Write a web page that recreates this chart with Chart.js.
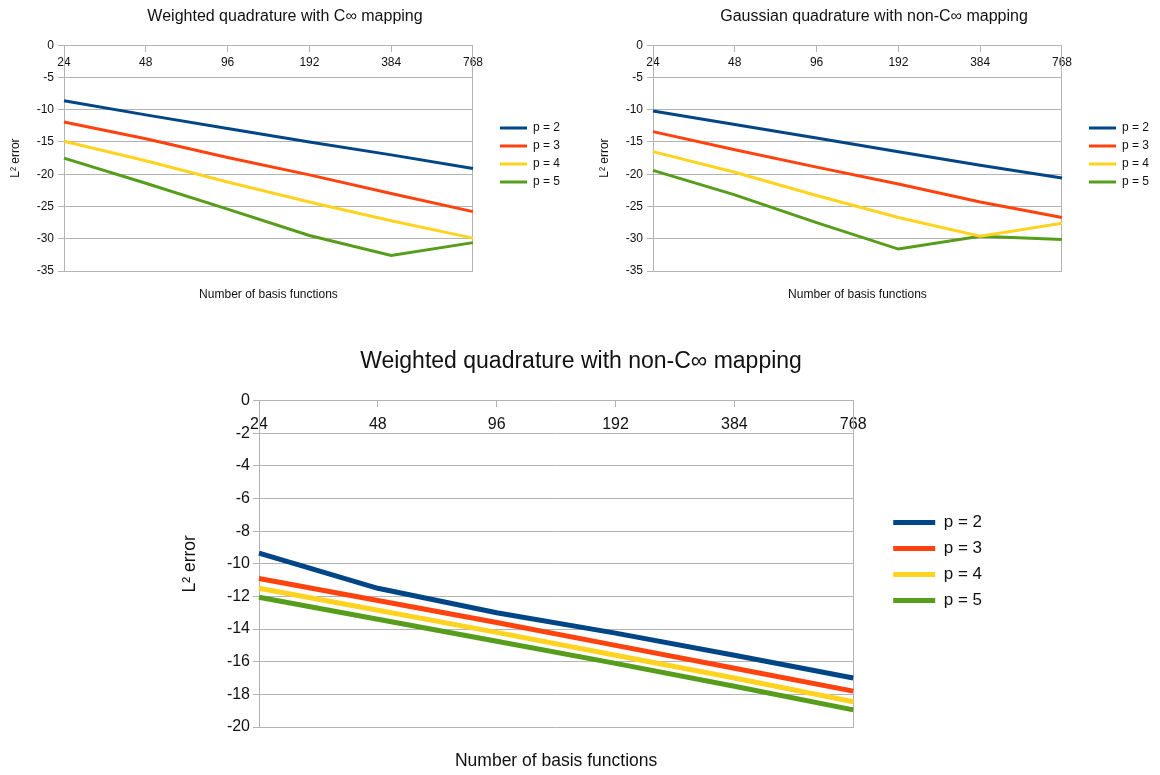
<!DOCTYPE html>
<html>
<head>
<meta charset="utf-8">
<script src="https://cdn.jsdelivr.net/npm/chart.js@4"></script>
<style>
  html, body { margin: 0; padding: 0; background: #fff; }
  body { width: 1160px; height: 775px; position: relative; overflow: hidden; }
  canvas { position: absolute; }
  #chartA { left: 0; top: 0; }
  #chartB { left: 589px; top: 0; }
  #chartC { left: 170px; top: 330px; }
</style>
</head>
<body>
<canvas id="chartA" width="571" height="310"></canvas>
<canvas id="chartB" width="571" height="310"></canvas>
<canvas id="chartC" width="840" height="445"></canvas>
<script>
const basisLabels = ['24', '48', '96', '192', '384', '768'];
const seriesNames = ['p = 2', 'p = 3', 'p = 4', 'p = 5'];

const yTicksSmall = [0, -5, -10, -15, -20, -25, -30, -35];
const yTicksLarge = [0, -2, -4, -6, -8, -10, -12, -14, -16, -18, -20];

// Weighted quadrature with C∞ mapping
const wcP2 = [-8.6, -10.8, -12.9, -15.0, -17.0, -19.1];
const wcP3 = [-11.9, -14.5, -17.4, -20.1, -23.0, -25.8];
const wcP4 = [-14.9, -17.9, -21.2, -24.3, -27.2, -29.9];
const wcP5 = [-17.5, -21.4, -25.4, -29.5, -32.6, -30.6];

// Gaussian quadrature with non-C∞ mapping
const gnP2 = [-10.2, -12.3, -14.4, -16.5, -18.6, -20.6];
const gnP3 = [-13.4, -16.2, -18.9, -21.5, -24.3, -26.7];
const gnP4 = [-16.5, -19.7, -23.3, -26.7, -29.6, -27.6];
const gnP5 = [-19.4, -23.2, -27.5, -31.6, -29.6, -30.1];

// Weighted quadrature with non-C∞ mapping
const wnP2 = [-9.35, -11.5, -13.0, -14.25, -15.6, -17.0];
const wnP3 = [-10.9, -12.25, -13.6, -15.0, -16.4, -17.8];
const wnP4 = [-11.5, -12.85, -14.2, -15.6, -17.0, -18.45];
const wnP5 = [-12.05, -13.4, -14.75, -16.1, -17.5, -18.95];

const palette = ['#004586', '#ff420e', '#ffd320', '#579d1c'];
const GRID = '#b3b3b3';
const TEXT = '#111';
const FONT = "'Liberation Sans', Arial, sans-serif";

function makeChart(canvasId, title, series, yTicks, s) {
  const datasets = series.map((values, i) => ({
    label: seriesNames[i],
    data: values,
    borderColor: palette[i],
    backgroundColor: palette[i],
    borderWidth: s.lineWidth,
    pointRadius: 0,
    tension: 0,
    xAxisID: 'x',
    yAxisID: 'y'
  }));

  return new Chart(document.getElementById(canvasId), {
    type: 'line',
    data: { labels: basisLabels, datasets },
    options: {
      responsive: false,
      animation: false,
      layout: { padding: { top: s.padTop, right: s.padRight, bottom: 0, left: 0 } },
      plugins: {
        title: {
          display: true,
          text: title,
          color: TEXT,
          font: { family: FONT, size: s.titleSize, weight: 'normal' },
          padding: { top: s.titleTop, bottom: s.titleBottom }
        },
        legend: {
          position: 'right',
          align: 'center',
          labels: {
            usePointStyle: true,
            pointStyle: 'line',
            pointStyleWidth: s.legendLine,
            color: TEXT,
            font: { family: FONT, size: s.legendSize },
            padding: s.legendPad
          }
        },
        tooltip: { enabled: false }
      },
      scales: {
        x: {
          type: 'category',
          position: { y: 0 },
          offset: false,
          grid: { display: true, drawOnChartArea: false, drawTicks: true, tickLength: s.tick, tickColor: GRID },
          border: { display: true, color: GRID },
          ticks: { color: TEXT, font: { family: FONT, size: s.tickSize }, padding: s.xTickPad, maxRotation: 0, autoSkip: false }
        },
        xb: {
          type: 'category',
          position: 'bottom',
          grid: { display: false, drawTicks: false },
          border: { display: false },
          ticks: { display: false },
          title: {
            display: true,
            text: 'Number of basis functions',
            color: TEXT,
            font: { family: FONT, size: s.axisTitleSize },
            padding: { top: 0, bottom: s.xTitleBottom }
          },
          afterFit: (scale) => { scale.height = s.bottomH; }
        },
        y: {
          type: 'linear',
          position: 'left',
          min: yTicks[yTicks.length - 1],
          max: yTicks[0],
          afterBuildTicks: (scale) => { scale.ticks = yTicks.map((v) => ({ value: v })); },
          grid: { color: GRID, tickLength: s.tick, tickColor: GRID },
          border: { display: true, color: GRID },
          ticks: { color: TEXT, font: { family: FONT, size: s.tickSize }, padding: s.yTickPad },
          title: {
            display: true,
            text: 'L² error',
            color: TEXT,
            font: { family: FONT, size: s.axisTitleSize },
            padding: { top: s.yTitleTop, bottom: 0 }
          },
          afterFit: (scale) => { scale.width = s.leftW; }
        },
        yr: {
          type: 'linear',
          position: 'right',
          min: yTicks[yTicks.length - 1],
          max: yTicks[0],
          grid: { display: false, drawTicks: false },
          border: { display: true, color: GRID },
          ticks: { display: false },
          afterFit: (scale) => { scale.width = s.gap; }
        }
      }
    }
  });
}

const smallStyle = {
  lineWidth: 3, padTop: 0, padRight: 1,
  titleSize: 16, titleTop: 7, titleBottom: 19,
  legendLine: 27, legendSize: 12, legendPad: 6,
  tick: 6, tickSize: 12, yTickPad: 4, xTickPad: 4,
  axisTitleSize: 12, xTitleBottom: 8, bottomH: 39,
  yTitleTop: 8, leftW: 64, gap: 21
};

const largeStyle = {
  lineWidth: 5, padTop: 18, padRight: 18,
  titleSize: 23, titleTop: 0, titleBottom: 25,
  legendLine: 42, legendSize: 17, legendPad: 9,
  tick: 6, tickSize: 16, yTickPad: 3, xTickPad: 8,
  axisTitleSize: 17.5, xTitleBottom: 3, bottomH: 48,
  yTitleTop: 10, leftW: 89, gap: 31
};

makeChart('chartA', 'Weighted quadrature with C∞ mapping', [wcP2, wcP3, wcP4, wcP5], yTicksSmall, smallStyle);
makeChart('chartB', 'Gaussian quadrature with non-C∞ mapping', [gnP2, gnP3, gnP4, gnP5], yTicksSmall, smallStyle);
makeChart('chartC', 'Weighted quadrature with non-C∞ mapping', [wnP2, wnP3, wnP4, wnP5], yTicksLarge, largeStyle);
</script>
</body>
</html>
